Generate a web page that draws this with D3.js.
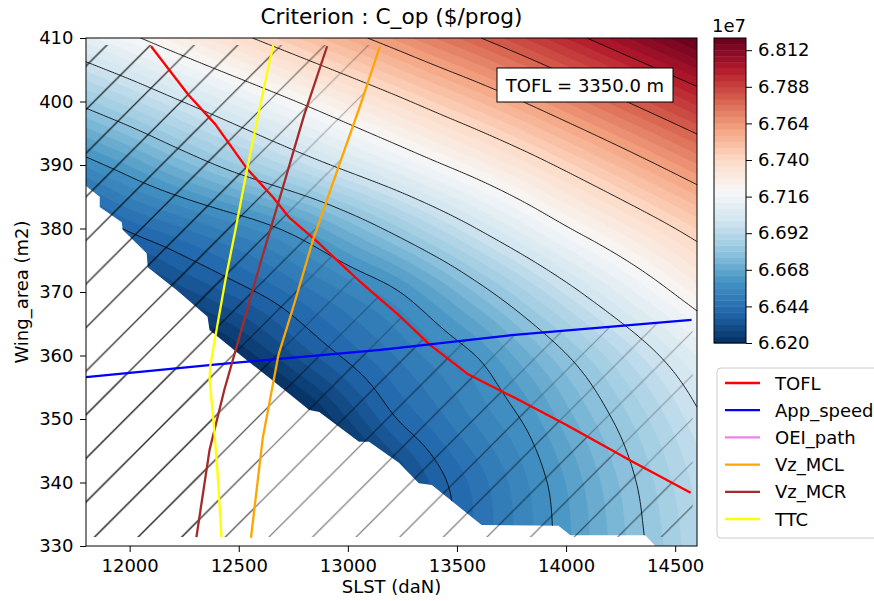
<!DOCTYPE html>
<html>
<head>
<meta charset="utf-8">
<script src="https://d3js.org/d3.v7.min.js"></script>
<style>
  body { margin: 0; background: #ffffff; }
  svg text { font-family: "DejaVu Sans", sans-serif; fill: #000; }
</style>
</head>
<body>
<svg id="chart" width="874" height="601" xmlns="http://www.w3.org/2000/svg"></svg>
<script>
// ---------------- data ----------------
const slstNodes = [11800, 12000, 12200, 12400, 12600, 12800, 13000, 13200, 13400, 13600, 13800, 14000, 14200, 14400, 14600];
const areaNodes = [330, 340, 350, 360, 370, 380, 390, 400, 410];
// C_op values (x 1e7 $/prog), one row per wing area (330 .. 410), one column per SLST node
const copGrid = [
  [6.5480, 6.5580, 6.5680, 6.5780, 6.5880, 6.6000, 6.6120, 6.6240, 6.6358, 6.6447, 6.6535, 6.6626, 6.6721, 6.6817, 6.6912],
  [6.5500, 6.5600, 6.5700, 6.5800, 6.5900, 6.6020, 6.6140, 6.6260, 6.6374, 6.6461, 6.6548, 6.6641, 6.6740, 6.6838, 6.6933],
  [6.5660, 6.5760, 6.5860, 6.5960, 6.6060, 6.6160, 6.6280, 6.6389, 6.6461, 6.6532, 6.6604, 6.6700, 6.6795, 6.6890, 6.6986],
  [6.5880, 6.5980, 6.6070, 6.6160, 6.6250, 6.6340, 6.6413, 6.6476, 6.6540, 6.6606, 6.6701, 6.6796, 6.6891, 6.6987, 6.7082],
  [6.6120, 6.6210, 6.6290, 6.6350, 6.6406, 6.6466, 6.6525, 6.6585, 6.6673, 6.6771, 6.6869, 6.6968, 6.7065, 6.7160, 6.7255],
  [6.6330, 6.6412, 6.6466, 6.6519, 6.6573, 6.6643, 6.6730, 6.6819, 6.6912, 6.7005, 6.7098, 6.7191, 6.7275, 6.7358, 6.7442],
  [6.6568, 6.6644, 6.6724, 6.6802, 6.6878, 6.6954, 6.7030, 6.7106, 6.7184, 6.7260, 6.7340, 6.7424, 6.7508, 6.7592, 6.7676],
  [6.6828, 6.6904, 6.6984, 6.7062, 6.7138, 6.7214, 6.7290, 6.7366, 6.7444, 6.7520, 6.7600, 6.7684, 6.7768, 6.7852, 6.7936],
  [6.7104, 6.7180, 6.7260, 6.7338, 6.7414, 6.7490, 6.7566, 6.7642, 6.7720, 6.7796, 6.7876, 6.7960, 6.8044, 6.8128, 6.8212]
];
const cbarTicks = [6.620, 6.644, 6.668, 6.692, 6.716, 6.740, 6.764, 6.788, 6.812];
const lineLevels = [6.64, 6.66, 6.68, 6.70, 6.72, 6.74, 6.76, 6.78, 6.80];
const xTicks = [12000, 12500, 13000, 13500, 14000, 14500];
const yTicks = [330, 340, 350, 360, 370, 380, 390, 400, 410];

// constraint boundaries [SLST, Wing_area]
const toflLine = [[12098,408.7],[12268,401.1],[12393,396.4],[12536,389.5],[12660,384.8],[12732,381.7],[12857,378.0],[13053,371.7],[13232,366.4],[13375,361.7],[13553,357.0],[13767,353.3],[14000,349.1],[14303,343.3],[14571,338.4]];
const appSpeedLine = [[11800,356.6],[12400,358.6],[13150,360.9],[13750,363.2],[14575,365.6]];
const vzMclLine = [[13147,408.7],[13058,399.5],[12950,389.0],[12843,378.5],[12753,368.0],[12682,360.1],[12610,347.0],[12556,331.3]];
const vzMcrLine = [[12905,408.7],[12800,397.9],[12699,386.1],[12603,375.0],[12512,364.0],[12434,354.6],[12366,345.1],[12306,331.4]];
const ttcLine = [[12658,408.9],[12603,400.1],[12539,389.5],[12485,379.8],[12439,371.9],[12398,364.0],[12370,358.5],[12366,356.4],[12384,349.8],[12402,341.9],[12421,331.4]];
// boundary of the region without C_op value (white, lower left)
const maskBoundary = [[11800,386.7],[11863,385.0],[11863,383.4],[11964,381.0],[11968,379.8],[12078,376.1],[12083,373.9],[12215,370.3],[12357,366.1],[12366,364.0],[12517,359.8],[12654,356.1],[12823,351.4],[12869,351.1],[13051,346.4],[13097,346.4],[13234,343.1],[13325,339.9],[13385,339.6],[13613,333.3],[13965,333.2],[14020,331.7],[14363,331.7],[14409,330.0]];
const constraintExtent = {slst: [11800, 14580], area: [331.4, 408.9]};

const legendNames = ["TOFL", "App_speed", "OEI_path", "Vz_MCL", "Vz_MCR", "TTC"];
const legendColors = ["#ff0000", "#0000ff", "#ee82ee", "#ffa500", "#a52a2a", "#ffff00"];

// ---------------- layout ----------------
const X0 = 86, X1 = 697, Y0 = 38, Y1 = 546;
const xS = d3.scaleLinear().domain([11800, 14600]).range([X0, X1]);
const yS = d3.scaleLinear().domain([330, 410]).range([Y1, Y0]);
const svg = d3.select("#chart");
const defs = svg.append("defs");
defs.append("clipPath").attr("id", "plotClip").append("rect")
  .attr("x", X0).attr("y", Y0).attr("width", X1 - X0).attr("height", Y1 - Y0);

// colormap RdBu_r
const rdbu = ["#053061","#2166ac","#4393c3","#92c5de","#d1e5f0","#f7f7f7","#fddbc7","#f4a582","#d6604d","#b2182b","#67001f"];
const cmap = d3.scaleLinear().domain(d3.range(11).map(i => i / 10)).range(rdbu).interpolate(d3.interpolateRgb).clamp(true);
const vmin = 6.62, vmax = 6.82;
const fillLevels = d3.range(51).map(i => +(vmin + i * 0.004).toFixed(3));
const bandColor = i => cmap(((fillLevels[i] + fillLevels[i + 1]) / 2 - vmin) / (vmax - vmin));

// ---------------- smooth surface from the grid (bicubic rendering) ----------------
const nS = slstNodes.length, nA = areaNodes.length;
const dS = slstNodes[1] - slstNodes[0], dA = areaNodes[1] - areaNodes[0];
function gv(i, j) {
  if (i < 0) return 2 * gv(0, j) - gv(1, j);
  if (i > nS - 1) return 2 * gv(nS - 1, j) - gv(nS - 2, j);
  if (j < 0) return 2 * gv(i, 0) - gv(i, 1);
  if (j > nA - 1) return 2 * gv(i, nA - 1) - gv(i, nA - 2);
  return copGrid[j][i];
}
function cr(p0, p1, p2, p3, t) {
  return 0.5 * (2 * p1 + (-p0 + p2) * t + (2 * p0 - 5 * p1 + 4 * p2 - p3) * t * t + (-p0 + 3 * p1 - 3 * p2 + p3) * t * t * t);
}
function surface(s, a) {
  const fx = (s - slstNodes[0]) / dS, fy = (a - areaNodes[0]) / dA;
  const i = Math.max(0, Math.min(nS - 2, Math.floor(fx)));
  const j = Math.max(0, Math.min(nA - 2, Math.floor(fy)));
  const tx = fx - i, ty = fy - j;
  const r = [];
  for (let m = -1; m <= 2; m++) r.push(cr(gv(i - 1, j + m), gv(i, j + m), gv(i + 1, j + m), gv(i + 2, j + m), tx));
  return cr(r[0], r[1], r[2], r[3], ty);
}
const nx = 281, ny = 161, stS = 10, stA = 0.5;
const values = new Float64Array(nx * ny);
for (let r = 0; r < ny; r++) for (let c = 0; c < nx; c++) values[r * nx + c] = surface(11800 + c * stS, 410 - r * stA);
const proj = d3.geoTransform({ point: function (x, y) { this.stream.point(xS(11800 + (x - 0.5) * stS), yS(410 - (y - 0.5) * stA)); } });
const gp = d3.geoPath(proj);

// filled contours
const fillG = svg.append("g").attr("clip-path", "url(#plotClip)");
fillG.append("rect").attr("x", X0).attr("y", Y0).attr("width", X1 - X0).attr("height", Y1 - Y0).attr("fill", bandColor(0));
const fc = d3.contours().size([nx, ny]).thresholds(fillLevels.slice(0, 50))(values);
fc.forEach((cnt, i) => {
  fillG.append("path").attr("d", gp(cnt)).attr("fill", bandColor(i)).attr("stroke", bandColor(i)).attr("stroke-width", 0.4);
});

// mask (no value region)
const lineXY = d3.line().x(d => xS(d[0])).y(d => yS(d[1]));
const maskPts = [[11800, 330], ...maskBoundary];
const maskD = lineXY(maskPts) + "Z";
svg.append("path").attr("d", maskD).attr("fill", "#ffffff").attr("clip-path", "url(#plotClip)");

// black iso-lines, outside the mask
defs.append("clipPath").attr("id", "lineClip").append("path")
  .attr("clip-rule", "evenodd")
  .attr("d", `M${X0},${Y0}H${X1}V${Y1}H${X0}Z` + maskD);
const lc = d3.contours().size([nx, ny]).thresholds(lineLevels)(values);
svg.append("g").attr("clip-path", "url(#lineClip)")
  .selectAll("path").data(lc).join("path")
  .attr("d", gp).attr("fill", "none").attr("stroke", "#000").attr("stroke-width", 1).attr("stroke-opacity", 0.85);

// hatching of infeasible regions
const hs = 43.6;
const hp = defs.append("pattern").attr("id", "hatch").attr("patternUnits", "userSpaceOnUse")
  .attr("width", hs).attr("height", hs).attr("x", 21.2).attr("y", 0);
hp.append("path").attr("d", `M-6,6L6,-6M0,${hs}L${hs},0M${hs - 6},${hs + 6}L${hs + 6},${hs - 6}`)
  .attr("stroke", "#000").attr("stroke-width", 1.1).attr("fill", "none");
defs.append("clipPath").attr("id", "hatchClip").append("rect")
  .attr("x", xS(constraintExtent.slst[0])).attr("y", yS(constraintExtent.area[1]))
  .attr("width", xS(constraintExtent.slst[1]) - xS(constraintExtent.slst[0]))
  .attr("height", yS(constraintExtent.area[0]) - yS(constraintExtent.area[1]));
function leftRegion(p) { const t = p[0], b = p[p.length - 1]; return [...p, [b[0], 300], [11000, 300], [11000, 420], [t[0], 420]]; }
function belowRegion(p) { const l = p[0], r = p[p.length - 1]; return [...p, [15000, r[1]], [15000, 300], [11000, 300], [11000, l[1]]]; }
function belowLeftRegion(p) { const t = p[0], b = p[p.length - 1]; return [...p, [15000, b[1]], [15000, 300], [11000, 300], [11000, 420], [t[0], 420]]; }
const regions = [belowLeftRegion(toflLine), belowRegion(appSpeedLine), leftRegion(vzMclLine), leftRegion(vzMcrLine), leftRegion(ttcLine)];
const hatchG = svg.append("g").attr("clip-path", "url(#hatchClip)");
regions.forEach(reg => {
  hatchG.append("path").attr("d", lineXY(reg) + "Z").attr("fill", "url(#hatch)").attr("opacity", 0.32);
});

// constraint lines
const curves = [[toflLine, legendColors[0]], [appSpeedLine, legendColors[1]], [vzMclLine, legendColors[3]], [vzMcrLine, legendColors[4]], [ttcLine, legendColors[5]]];
const cg = svg.append("g").attr("clip-path", "url(#plotClip)");
curves.forEach(([pts, col]) => {
  cg.append("path").attr("d", lineXY(pts)).attr("fill", "none").attr("stroke", col).attr("stroke-width", 2.3).attr("stroke-linejoin", "round");
});

// annotation box
svg.append("rect").attr("x", 497).attr("y", 68).attr("width", 176).attr("height", 34).attr("fill", "#fff").attr("stroke", "#000").attr("stroke-width", 1);
svg.append("text").attr("x", 585).attr("y", 91.5).attr("text-anchor", "middle").attr("font-size", 18).text("TOFL = 3350.0 m");

// axes
const fontPx = 18;
const xAx = svg.append("g").attr("transform", `translate(0,${Y1})`)
  .call(d3.axisBottom(xS).tickValues(xTicks).tickSize(6).tickPadding(7).tickFormat(d3.format("d")));
const yAx = svg.append("g").attr("transform", `translate(${X0},0)`)
  .call(d3.axisLeft(yS).tickValues(yTicks).tickSize(6).tickPadding(6.5).tickFormat(d3.format("d")));
[xAx, yAx].forEach(g => {
  g.select(".domain").remove();
  g.attr("font-family", "DejaVu Sans, sans-serif").attr("font-size", fontPx);
  g.selectAll(".tick line").attr("stroke", "#000").attr("stroke-width", 1);
  g.selectAll(".tick text").attr("fill", "#000");
});
svg.append("rect").attr("x", X0).attr("y", Y0).attr("width", X1 - X0).attr("height", Y1 - Y0)
  .attr("fill", "none").attr("stroke", "#000").attr("stroke-width", 1);

svg.append("text").attr("x", (X0 + X1) / 2).attr("y", 24).attr("text-anchor", "middle").attr("font-size", 21.7).text("Criterion : C_op ($/prog)");
svg.append("text").attr("x", (X0 + X1) / 2).attr("y", 593).attr("text-anchor", "middle").attr("font-size", fontPx).text("SLST (daN)");
svg.append("text").attr("transform", `translate(28,${(Y0 + Y1) / 2}) rotate(-90)`).attr("text-anchor", "middle").attr("font-size", fontPx).text("Wing_area (m2)");

// colorbar
const cbX = 714, cbW = 32, cbTop = 38, cbBot = 343;
const cbS = d3.scaleLinear().domain([vmin, vmax]).range([cbBot, cbTop]);
const cbG = svg.append("g");
for (let i = 0; i < 50; i++) {
  cbG.append("rect").attr("x", cbX).attr("width", cbW)
    .attr("y", cbS(fillLevels[i + 1])).attr("height", cbS(fillLevels[i]) - cbS(fillLevels[i + 1]) + 0.4)
    .attr("fill", bandColor(i));
}
cbG.append("rect").attr("x", cbX).attr("y", cbTop).attr("width", cbW).attr("height", cbBot - cbTop)
  .attr("fill", "none").attr("stroke", "#000").attr("stroke-width", 1);
const cbAx = svg.append("g").attr("transform", `translate(${cbX + cbW},0)`)
  .call(d3.axisRight(cbS).tickValues(cbarTicks).tickSize(6).tickPadding(6).tickFormat(d3.format(".3f")));
cbAx.select(".domain").remove();
cbAx.attr("font-family", "DejaVu Sans, sans-serif").attr("font-size", fontPx);
cbAx.selectAll(".tick line").attr("stroke", "#000");
cbAx.selectAll(".tick text").attr("fill", "#000");
svg.append("text").attr("x", 712).attr("y", 32).attr("font-size", fontPx).text("1e7");

// legend
const lg = svg.append("g");
lg.append("rect").attr("x", 717).attr("y", 368).attr("width", 170).attr("height", 170).attr("rx", 4)
  .attr("fill", "#fff").attr("fill-opacity", 0.8).attr("stroke", "#cccccc").attr("stroke-width", 1);
legendNames.forEach((n, i) => {
  const y = 383 + i * 27.2;
  lg.append("line").attr("x1", 725).attr("x2", 760).attr("y1", y).attr("y2", y).attr("stroke", legendColors[i]).attr("stroke-width", 2.3);
  lg.append("text").attr("x", 775).attr("y", y + 6.5).attr("font-size", fontPx).text(n);
});
</script>
</body>
</html>
